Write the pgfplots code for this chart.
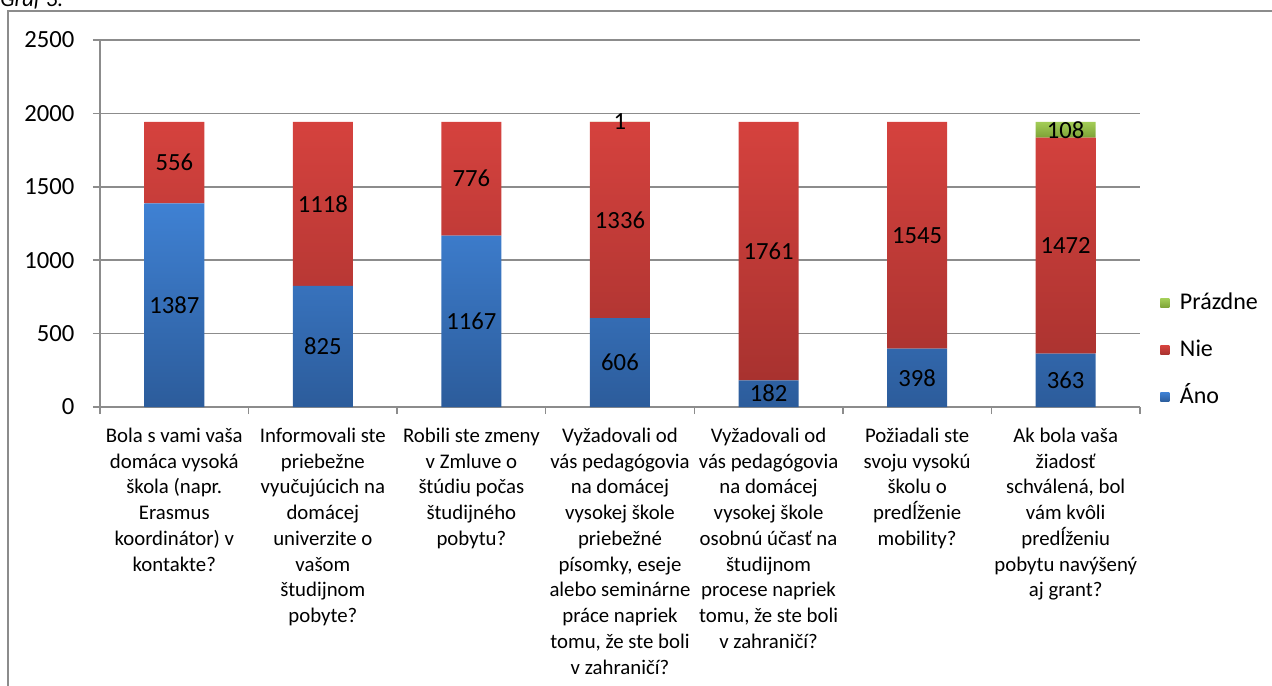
\documentclass[border=0pt]{standalone}
\usepackage{fontspec}
\setmainfont{Carlito}
\usepackage{pgfplots}
\pgfplotsset{compat=1.18}
\definecolor{bluetop}{HTML}{3F81D3}
\definecolor{bluebot}{HTML}{2C5C9B}
\definecolor{redtop}{HTML}{D5423E}
\definecolor{redbot}{HTML}{A8322F}
\definecolor{greentop}{HTML}{A3CD57}
\definecolor{greenbot}{HTML}{7DA236}
\definecolor{gridgray}{HTML}{8C8C8C}
\begin{document}
\begin{tikzpicture}[font=\fontsize{16pt}{19pt}\selectfont]
\useasboundingbox (-75pt,-209.25pt) rectangle (879pt,305.25pt);
\draw[gridgray, line width=1.1pt] (-69pt,-230pt) -- (-69pt,297pt) -- (900pt,297pt);
\node[anchor=base west, font=\fontsize{17pt}{19pt}\selectfont\itshape, inner sep=0pt] at (-75pt,300pt) {Graf 3.};
\begin{axis}[
  at={(0pt,0pt)}, anchor=south west,
  scale only axis,
  width=780pt, height=275.25pt,
  ybar stacked, bar width=45pt,
  xmin=-0.5, xmax=6.5, ymin=0, ymax=2500,
  ytick={0,500,...,2500},
  xtick={0,...,6},
  minor xtick={-0.5,0.5,...,6.5},
  xticklabels={
    {Bola s vami vaša\\domáca vysoká\\škola (napr.\\Erasmus\\koordinátor) v\\kontakte?},
    {Informovali ste\\priebežne\\vyučujúcich na\\domácej\\univerzite o\\vašom\\študijnom\\pobyte?},
    {Robili ste zmeny\\v Zmluve o\\štúdiu počas\\študijného\\pobytu?},
    {Vyžadovali od\\vás pedagógovia\\na domácej\\vysokej škole\\priebežné\\písomky, eseje\\alebo seminárne\\práce napriek\\tomu, že ste boli\\v zahraničí?},
    {Vyžadovali od\\vás pedagógovia\\na domácej\\vysokej škole\\osobnú účasť na\\študijnom\\procese napriek\\tomu, že ste boli\\v zahraničí?},
    {Požiadali ste\\svoju vysokú\\školu o\\predĺženie\\mobility?},
    {Ak bola vaša\\žiadosť\\schválená, bol\\vám kvôli\\predĺženiu\\pobytu navýšený\\aj grant?}
  },
  xticklabel style={align=center, anchor=north, font=\fontsize{15.6pt}{19.3pt}\selectfont, yshift=-7pt},
  yticklabel style={font=\fontsize{18.5pt}{20pt}\selectfont, xshift=-10.5pt},
  /pgf/number format/assume math mode=true,
  /pgf/number format/1000 sep={},
  axis x line*=bottom, axis y line*=left,
  axis line style={gridgray, line width=1.1pt, -},
  ymajorgrids,
  major grid style={gridgray, line width=1.1pt},
  tick align=outside,
  major tick length=5.25pt,
  minor tick length=5.25pt,
  xtick style={draw=none},
  ytick style={gridgray, line width=1.1pt},
  minor x tick style={gridgray, line width=1.1pt, draw=gridgray},
  point meta=rawy,
  nodes near coords={\pgfmathfloatifflags{\pgfplotspointmeta}{0}{}{\pgfmathprintnumber{\pgfplotspointmeta}}},
  every node near coord/.append style={anchor=center, text=black, font=\fontsize{18.5pt}{20pt}\selectfont},
  legend style={at={(1,0.155)}, anchor=west, xshift=12pt, draw=none, fill=none, row sep=14.25pt,
    nodes={text height=13pt, text depth=4pt, inner sep=2pt}, font=\fontsize{18pt}{20pt}\selectfont,
    /tikz/every odd column/.append style={column sep=6pt}},
  legend cell align=left,
  reverse legend,
  legend image code/.code={\path[#1] (0pt,-3.4pt) rectangle (6.8pt,3.4pt);},
]
\addplot[draw=none, top color=bluetop, bottom color=bluebot] coordinates {(0,1387) (1,825) (2,1167) (3,606) (4,182) (5,398) (6,363)};
\addplot[draw=none, top color=redtop, bottom color=redbot] coordinates {(0,556) (1,1118) (2,776) (3,1336) (4,1761) (5,1545) (6,1472)};
\addplot[draw=none, top color=greentop, bottom color=greenbot] coordinates {(0,0) (1,0) (2,0) (3,1) (4,0) (5,0) (6,108)};
\legend{Áno, Nie, Prázdne}
\end{axis}
\end{tikzpicture}
\end{document}
